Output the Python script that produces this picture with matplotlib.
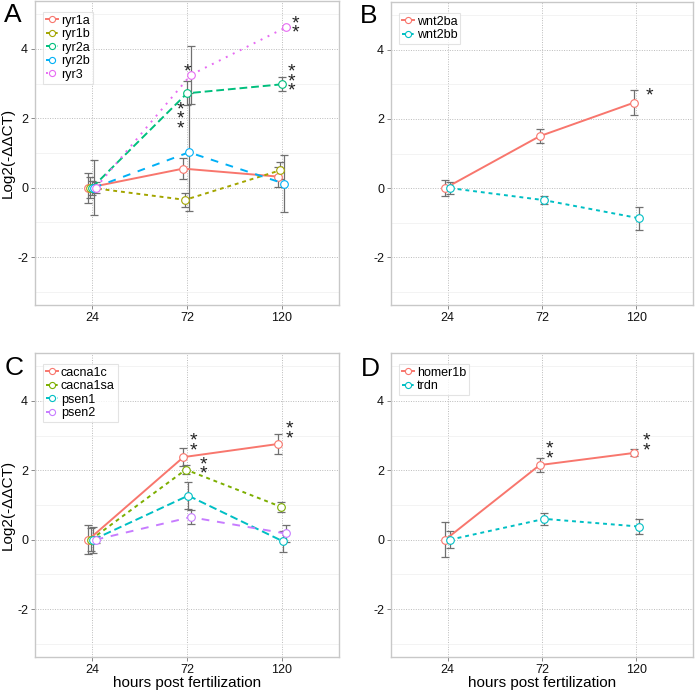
import matplotlib
matplotlib.use("Agg")
import matplotlib.pyplot as plt
import numpy as np

plt.rcParams['font.family'] = ['Liberation Sans', 'DejaVu Sans']
plt.rcParams['axes.unicode_minus'] = False

hours = ["24", "72", "120"]

# Panel A
genes_a = ["ryr1a", "ryr1b", "ryr2a", "ryr2b", "ryr3"]
ryr1a = [0.0, 0.55, 0.32]
ryr1a_err = [0.43, 0.31, 0.29]
ryr1b = [0.0, -0.35, 0.50]
ryr1b_err = [0.30, 0.20, 0.25]
ryr2a = [0.0, 2.72, 2.98]
ryr2a_err = [0.20, 0.35, 0.20]
ryr2b = [0.0, 1.02, 0.12]
ryr2b_err = [0.80, 1.70, 0.81]
ryr3 = [0.0, 3.25, 4.62]
ryr3_err = [0.15, 0.83, 0.0]

# Panel B
genes_b = ["wnt2ba", "wnt2bb"]
wnt2ba = [0.0, 1.50, 2.47]
wnt2ba_err = [0.22, 0.21, 0.37]
wnt2bb = [0.0, -0.35, -0.87]
wnt2bb_err = [0.18, 0.12, 0.33]

# Panel C
genes_c = ["cacna1c", "cacna1sa", "psen1", "psen2"]
cacna1c = [0.0, 2.38, 2.76]
cacna1c_err = [0.42, 0.25, 0.29]
cacna1sa = [0.0, 2.02, 0.95]
cacna1sa_err = [0.33, 0.13, 0.15]
psen1 = [0.0, 1.27, -0.05]
psen1_err = [0.38, 0.38, 0.30]
psen2 = [0.0, 0.65, 0.18]
psen2_err = [0.10, 0.20, 0.25]

# Panel D
genes_d = ["homer1b", "trdn"]
homer1b = [0.0, 2.15, 2.50]
homer1b_err = [0.50, 0.21, 0.10]
trdn = [0.0, 0.60, 0.38]
trdn_err = [0.25, 0.17, 0.21]

# significance marks: (hour index, x offset, y value, stars)
sig_a = [(1, 0.0, 3.47, 1), (1, -0.065, 2.10, 3), (2, 0.145, 4.72, 2), (2, 0.10, 3.19, 3)]
sig_b = [(2, 0.14, 2.79, 1)]
sig_c = [(1, 0.07, 2.83, 2), (1, 0.17, 2.15, 2), (2, 0.077, 3.18, 2)]
sig_d = [(1, 0.08, 2.60, 2), (2, 0.105, 2.83, 2)]

pal5 = ["#F8766D", "#A3A500", "#00BF7D", "#00B0F6", "#E76BF3"]
pal4 = ["#F8766D", "#7CAE00", "#00BFC4", "#C77CFF"]
pal2 = ["#F8766D", "#00BFC4"]
ltypes = ["-", (0, (2, 2)), (0, (4, 2)), (0, (4, 4)), (0, (1, 3))]

W, H = 696, 695
fig = plt.figure(figsize=(W / 100, H / 100), dpi=100)


def ax_rect(l, r, t, b):
    return [l / W, (H - b) / H, (r - l) / W, (b - t) / H]


def panel(rect, genes, means, errs, colors, sig, ylabel, xlabel):
    ax = fig.add_axes(rect)
    n = len(genes)
    width = 0.1
    x = np.arange(1, len(hours) + 1)
    handles = []
    for i, (g, m, e, c) in enumerate(zip(genes, means, errs, colors)):
        off = -width / 2 + width / n * (i + 0.5)
        xs = x + off
        ax.errorbar(xs, m, yerr=e, fmt='none', ecolor='#707070', elinewidth=0.9,
                    capsize=3.2, capthick=0.9, zorder=2)
        ln, = ax.plot(xs, m, color=c, lw=1.4, linestyle=ltypes[i], zorder=3,
                      marker='o', markersize=5.5, markerfacecolor='white',
                      markeredgecolor=c, markeredgewidth=0.8, label=g)
        handles.append(ln)
    for (hi, dx, yv, k) in sig:
        ax.text(x[hi] + dx, yv - 0.13, "\n".join(["*"] * k), ha='center', va='center',
                fontsize=14, linespacing=0.42, color='#222222', zorder=5)
    ax.set_xlim(0.4, 3.6)
    ax.set_ylim(-3.38, 5.38)
    ax.set_xticks(x)
    ax.set_xticklabels(hours)
    ax.set_yticks([-2, 0, 2, 4])
    ax.set_yticks([-3, -1, 1, 3, 5], minor=True)
    ax.grid(True, which='major', color='#BBBBBB', linestyle=(0, (1, 1.5)), lw=0.7)
    ax.grid(True, which='minor', axis='y', color='#EEEEEE', linestyle='-', lw=0.5)
    ax.set_axisbelow(True)
    ax.tick_params(which='major', length=3, width=0.7, color='#888888',
                   labelsize=9, pad=2, labelcolor='#111111')
    ax.tick_params(which='minor', length=0)
    for s in ax.spines.values():
        s.set_color('#C8C8C8')
        s.set_linewidth(1.0)
    if ylabel:
        ax.set_ylabel(ylabel, fontsize=11, labelpad=2)
    if xlabel:
        ax.set_xlabel(xlabel, fontsize=11, labelpad=0)
    leg = ax.legend(handles=handles, loc='upper left', bbox_to_anchor=(0.025, 0.965),
                    fontsize=9, handlelength=1.0, handletextpad=0.2,
                    labelspacing=0.12, borderpad=0.25, borderaxespad=0.0,
                    frameon=True, fancybox=False, markerscale=0.8)
    leg.get_frame().set_edgecolor('#DDDDDD')
    leg.get_frame().set_linewidth(0.8)
    return ax


panel(ax_rect(35, 339, 1, 305), genes_a, [ryr1a, ryr1b, ryr2a, ryr2b, ryr3],
      [ryr1a_err, ryr1b_err, ryr2a_err, ryr2b_err, ryr3_err], pal5, sig_a,
      "Log2(-ΔΔCT)", None)
panel(ax_rect(391, 693, 2, 305), genes_b, [wnt2ba, wnt2bb], [wnt2ba_err, wnt2bb_err],
      pal2, sig_b, None, None)
panel(ax_rect(35, 339, 353, 657), genes_c, [cacna1c, cacna1sa, psen1, psen2],
      [cacna1c_err, cacna1sa_err, psen1_err, psen2_err], pal4, sig_c,
      "Log2(-ΔΔCT)", "hours post fertilization")
panel(ax_rect(391, 693, 353, 657), genes_d, [homer1b, trdn], [homer1b_err, trdn_err],
      pal2, sig_d, None, "hours post fertilization")

for letter, (px, py) in zip("ABCD", [(13, 15), (369, 16), (14, 368), (370, 369)]):
    fig.text(px / W, 1 - py / H, letter, fontsize=19, ha='center', va='center')

fig.savefig("out.png", dpi=100, facecolor='white')
